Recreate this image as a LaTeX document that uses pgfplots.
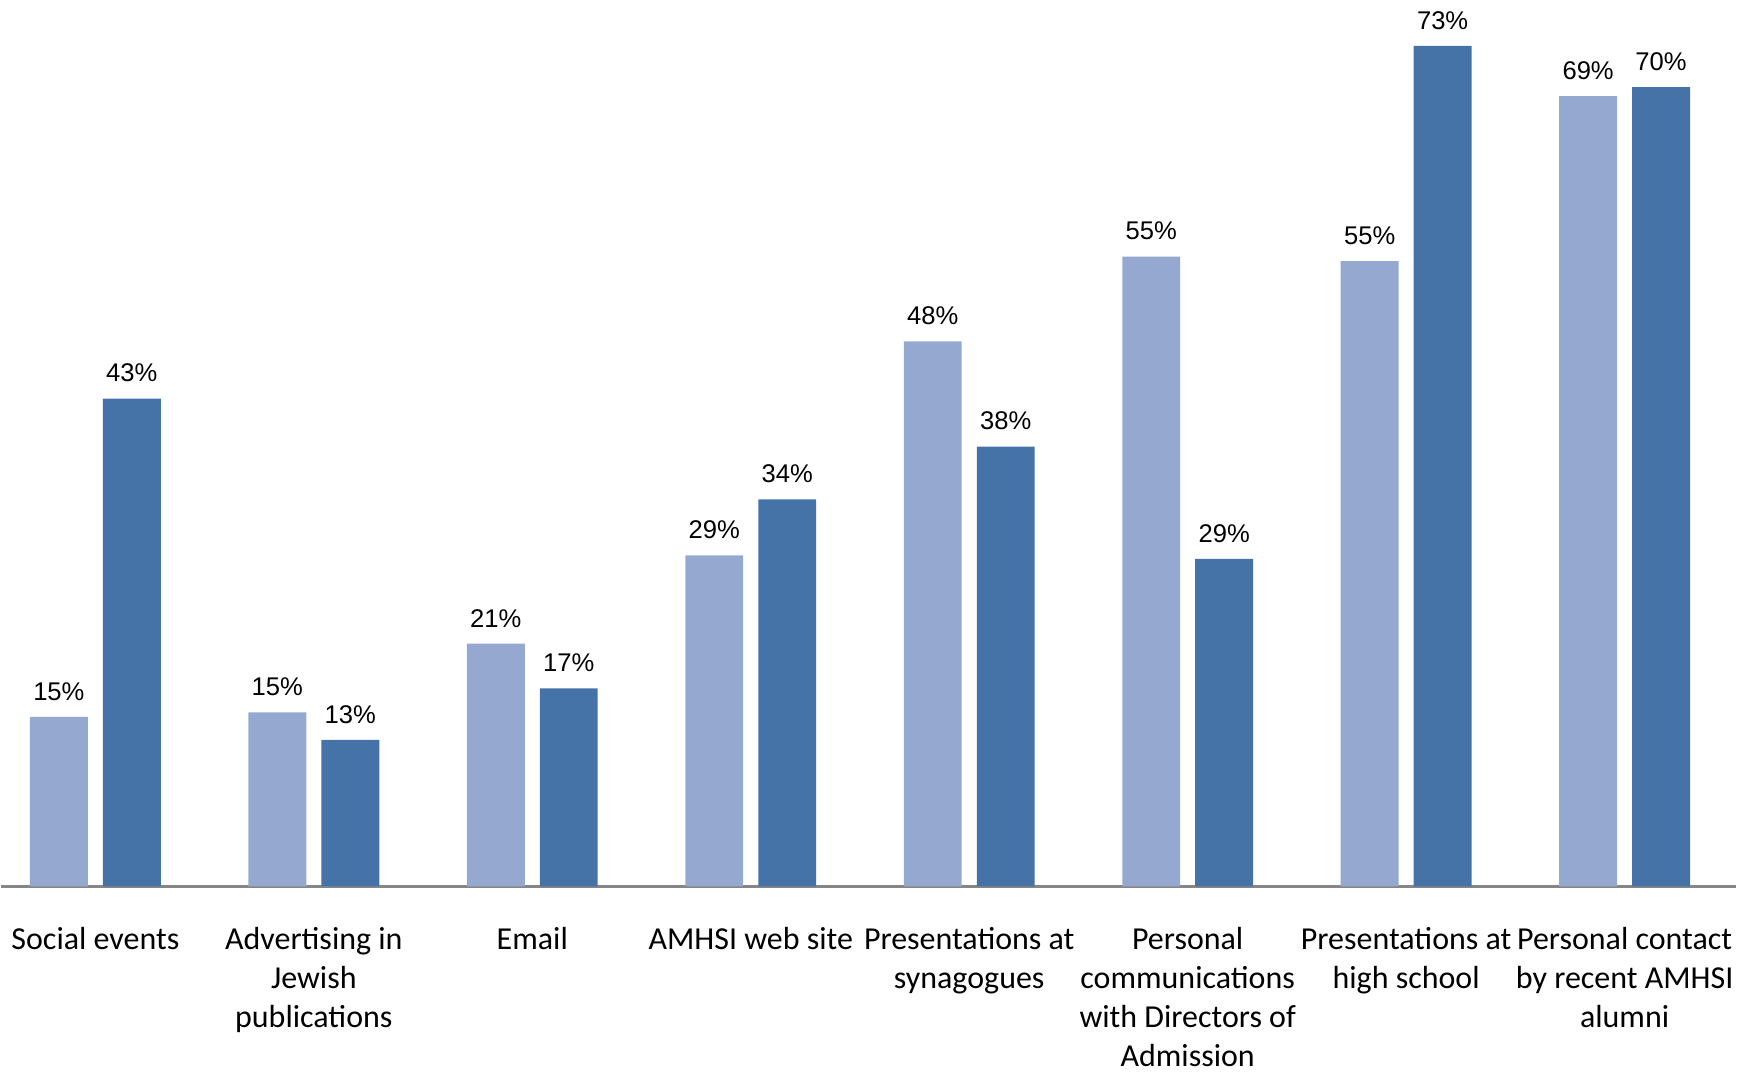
\documentclass[border=0pt]{standalone}
\usepackage{pgfplots}
\pgfplotsset{compat=1.18}
\usepackage{fontspec}
\setmainfont{Carlito}
\newfontfamily\arialfont{Liberation Sans}

\definecolor{lightbar}{RGB}{149,169,208}
\definecolor{darkbar}{RGB}{69,115,167}
\definecolor{baseline}{RGB}{134,134,134}

\begin{document}
\begin{tikzpicture}
\begin{axis}[
    scale only axis,
    width=868pt, height=443.5pt,
    at={(0,0)}, anchor=south west,
    xmin=-0.431, xmax=7.51,
    ymin=0, ymax=77.4,
    clip=false,
    axis x line=bottom,
    axis y line=none,
    x axis line style={-, draw=baseline, line width=1.2pt},
    ytick=\empty,
    xtick={0,...,7},
    major tick length=0pt,
    xticklabels={
      Social events,
      {Advertising in\\Jewish\\publications},
      Email,
      AMHSI web site,
      {Presentations at\\synagogues},
      {Personal\\communications\\with Directors of\\Admission},
      {Presentations at\\high school},
      {Personal contact\\by recent AMHSI\\alumni}},
    xticklabel style={anchor=north, inner sep=0pt, yshift=-20.5pt,
      align=center, font=\fontsize{16}{19.5}\selectfont},
    ybar, bar width=0.265,
    /pgf/number format/assume math mode=true,
    nodes near coords={\pgfmathprintnumber[fixed,precision=0]{\pgfplotspointmeta}\%},
    every node near coord/.append style={anchor=south, inner sep=0pt, yshift=8pt,
      text=black, font=\arialfont\fontsize{12.8}{15}\selectfont},
]
% first series (lighter bars)
\addplot[draw=none, fill=lightbar, bar shift=-0.167] coordinates {
  (0,14.8) (1,15.2) (2,21.2) (3,28.9) (4,47.6) (5,55.0) (6,54.6) (7,69.0)};
% second series (darker bars)
\addplot[draw=none, fill=darkbar, bar shift=0.167] coordinates {
  (0,42.6) (1,12.8) (2,17.3) (3,33.8) (4,38.4) (5,28.6) (6,73.4) (7,69.8)};
\end{axis}
\path[use as bounding box] (0,-92.5pt) rectangle (874.5pt,443.5pt);
\end{tikzpicture}
\end{document}
